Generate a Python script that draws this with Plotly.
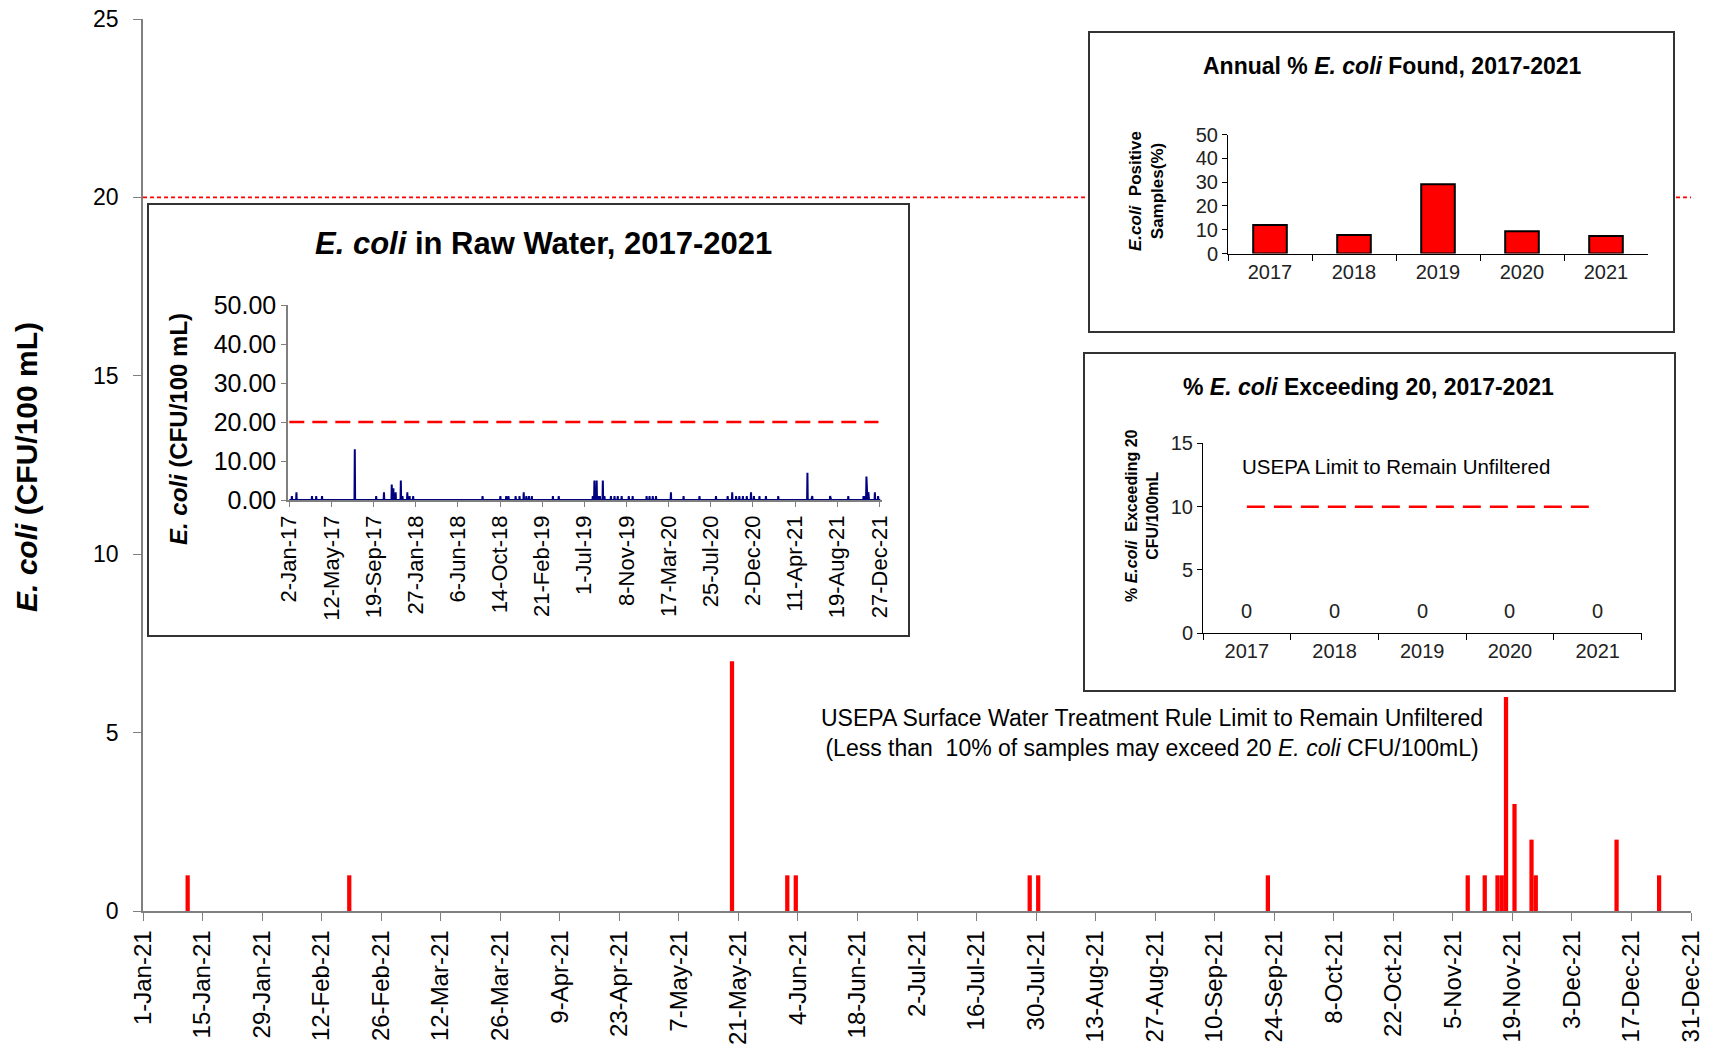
import plotly.graph_objects as go
from datetime import date, timedelta

W, H = 1713, 1050

# ---------------- data ----------------
# Main chart: 2021 E. coli detections (CFU/100 mL)
main_dates = ["2021-01-11", "2021-02-18", "2021-05-19", "2021-06-01", "2021-06-03",
              "2021-07-28", "2021-07-30", "2021-09-22", "2021-11-08", "2021-11-12",
              "2021-11-15", "2021-11-16", "2021-11-17", "2021-11-19", "2021-11-23",
              "2021-11-24", "2021-12-13", "2021-12-23"]
main_values = [1, 1, 7, 1, 1, 1, 1, 1, 1, 1, 1, 1, 6, 3, 2, 1, 2, 1]
limit_value = 20
main_x_range = ["2021-01-01", "2021-12-31"]

# Inset 1: raw water 2017-2020 detections (2021 taken from main series)
raw_dates_2017_2020 = [
    "2017-01-10", "2017-01-24", "2017-03-13", "2017-03-26", "2017-04-13", "2017-07-23",
    "2017-09-27", "2017-10-21", "2017-11-14", "2017-11-19", "2017-11-26", "2017-12-12",
    "2017-12-17", "2018-01-01", "2018-01-08", "2018-01-19",
    "2018-08-21", "2018-10-15", "2018-11-02", "2018-11-09", "2018-12-01", "2018-12-13",
    "2018-12-26",
    "2019-01-03", "2019-01-11", "2019-01-20", "2019-03-26", "2019-04-13",
    "2019-07-27", "2019-08-01", "2019-08-08", "2019-08-13", "2019-08-18", "2019-08-27",
    "2019-09-01", "2019-09-21", "2019-10-02", "2019-10-12", "2019-10-24", "2019-11-15",
    "2019-11-27",
    "2020-01-09", "2020-01-18", "2020-01-28", "2020-02-07", "2020-03-24", "2020-05-02",
    "2020-06-20", "2020-08-10", "2020-09-15", "2020-09-29", "2020-10-11", "2020-10-21",
    "2020-11-01", "2020-11-13", "2020-11-26", "2020-12-05", "2020-12-22"]
raw_values_2017_2020 = [1, 2, 1, 1, 1, 13, 1, 2, 4, 3, 2, 5, 1, 2, 1, 1,
                        1, 1, 1, 1, 1, 1, 2,
                        1, 1, 1, 1, 1,
                        1, 5, 5, 1, 1, 5, 1, 1, 1, 1, 1, 1, 1,
                        1, 1, 1, 1, 2, 1, 1, 1, 1, 2, 1, 1, 1, 1, 2, 1, 1]
raw_start, raw_end = "2017-01-02", "2021-12-30"
raw_tick_dates = ["2017-01-02", "2017-05-12", "2017-09-19", "2018-01-27", "2018-06-06",
                  "2018-10-14", "2019-02-21", "2019-07-01", "2019-11-08", "2020-03-17",
                  "2020-07-25", "2020-12-02", "2021-04-11", "2021-08-19", "2021-12-27"]
raw_x_range = ["2016-12-29", "2022-01-04"]
raw_limit_range = ["2017-01-02", "2021-12-24"]

# Inset 2 / 3: annual summaries
years = ["2017", "2018", "2019", "2020", "2021"]
pct_positive = [12.0, 7.8, 29.1, 9.4, 7.4]
pct_exceeding = [0, 0, 0, 0, 0]
usepa_pct_limit = 10

# -------------- build inset 1 line (non-detects = 0 around each detection) -----
det = {}
for d, v in zip(raw_dates_2017_2020 + main_dates, raw_values_2017_2020 + main_values):
    det[date.fromisoformat(d)] = v
pts = {date.fromisoformat(raw_start): 0, date.fromisoformat(raw_end): 0}
for d in det:
    for nb in (d - timedelta(days=1), d + timedelta(days=1)):
        pts.setdefault(nb, 0)
pts.update(det)
raw_x = sorted(pts)
raw_y = [pts[d] for d in raw_x]

# -------------- helpers (pixel -> figure fraction) --------------
def dx(a, b):
    return [a / W, b / W]

def dy(top, bottom):
    return [1 - bottom / H, 1 - top / H]

FONT = "Arial, Liberation Sans, sans-serif"
RED = "#FF0000"
GRAY = "#7f7f7f"

fig = go.Figure()

# main
fig.add_trace(go.Scatter(x=main_x_range, y=[limit_value, limit_value], mode="lines",
                         line=dict(color=RED, width=1.8, dash="4px,3px"),
                         xaxis="x", yaxis="y", hoverinfo="skip"))
fig.add_trace(go.Bar(x=main_dates, y=main_values, width=86400000,
                     xperiod=86400000, xperiodalignment="middle",
                     marker=dict(color=RED, line=dict(width=0)),
                     xaxis="x", yaxis="y"))

# box 1 (blank) + inset 1
fig.add_trace(go.Scatter(x=[None], y=[None], xaxis="x2", yaxis="y2", hoverinfo="skip"))
fig.add_trace(go.Scatter(x=raw_x, y=raw_y, mode="lines",
                         line=dict(color="#000080", width=2),
                         xaxis="x3", yaxis="y3"))
fig.add_trace(go.Scatter(x=raw_limit_range, y=[limit_value, limit_value], mode="lines",
                         line=dict(color=RED, width=2.5, dash="15px,8px"),
                         xaxis="x3", yaxis="y3", hoverinfo="skip"))

# box 2 (blank) + inset 2
fig.add_trace(go.Scatter(x=[None], y=[None], xaxis="x4", yaxis="y4", hoverinfo="skip"))
fig.add_trace(go.Bar(x=years, y=pct_positive, width=0.4,
                     marker=dict(color=RED, line=dict(color="black", width=2)),
                     xaxis="x5", yaxis="y5"))

# box 3 (blank) + inset 3
fig.add_trace(go.Scatter(x=[None], y=[None], xaxis="x6", yaxis="y6", hoverinfo="skip"))
fig.add_trace(go.Scatter(x=years, y=[usepa_pct_limit] * len(years), mode="lines",
                         line=dict(color=RED, width=2.5, dash="18px,9px"),
                         xaxis="x7", yaxis="y7"))

blank = dict(showline=True, mirror=True, linecolor="#333333", linewidth=1.5,
             showticklabels=False, ticks="", showgrid=False, zeroline=False,
             range=[0, 1], fixedrange=True)

layout = dict(
    width=W, height=H,
    margin=dict(l=0, r=0, t=0, b=0, pad=0, autoexpand=False),
    paper_bgcolor="white", plot_bgcolor="white",
    showlegend=False,
    font=dict(family=FONT, color="black"),
    xaxis=dict(domain=dx(143, 1691), anchor="y", type="date", range=main_x_range,
               tick0="2021-01-01", dtick=14 * 86400000, tickformat="%-d-%b-%y",
               tickangle=-90, ticks="outside", ticklen=8, tickcolor=GRAY,
               showline=True, linecolor=GRAY, linewidth=1.5, showgrid=False,
               zeroline=False, tickfont=dict(size=24), automargin=False,
               ticklabeloverflow="allow"),
    yaxis=dict(domain=dy(19, 911), anchor="x", range=[0, 25], dtick=5,
               ticks="outside", ticklen=8, tickcolor=GRAY, showline=True,
               linecolor=GRAY, linewidth=1.5, showgrid=False, zeroline=False,
               tickfont=dict(size=23), ticklabelstandoff=10, automargin=False,
               ticklabeloverflow="allow"),
    xaxis2=dict(domain=dx(149, 908), anchor="y2", **blank),
    yaxis2=dict(domain=dy(205, 635), anchor="x2", **blank),
    xaxis3=dict(domain=dx(288, 882), anchor="y3", type="date", range=raw_x_range,
                tickvals=raw_tick_dates, tickformat="%-d-%b-%y", tickangle=-90,
                ticks="outside", ticklen=5, tickcolor=GRAY, showline=True,
                linecolor=GRAY, linewidth=1.5, showgrid=False, zeroline=False,
                tickfont=dict(size=22)),
    yaxis3=dict(domain=dy(305, 500), anchor="x3", range=[0, 50], dtick=10,
                tickformat=".2f", ticks="outside", ticklen=5, tickcolor=GRAY,
                showline=True, linecolor=GRAY, linewidth=1.5, showgrid=False,
                zeroline=False, tickfont=dict(size=25)),
    xaxis4=dict(domain=dx(1090, 1673), anchor="y4", **blank),
    yaxis4=dict(domain=dy(33, 331), anchor="x4", **blank),
    xaxis5=dict(domain=dx(1228, 1648), anchor="y5", type="category", range=[-0.5, 4.5],
                ticks="outside", tickson="boundaries", ticklen=6, tickcolor="black",
                showline=True, linecolor="black", linewidth=1, showgrid=False,
                zeroline=False, tickfont=dict(size=20, color="#222")),
    yaxis5=dict(domain=dy(134.5, 253.5), anchor="x5", range=[0, 50], dtick=10,
                ticks="outside", ticklen=5, tickcolor="black", showline=True,
                linecolor="black", linewidth=1, showgrid=False, zeroline=False,
                tickfont=dict(size=20, color="#222")),
    xaxis6=dict(domain=dx(1085, 1674), anchor="y6", **blank),
    yaxis6=dict(domain=dy(354, 690), anchor="x6", **blank),
    xaxis7=dict(domain=dx(1203, 1641.5), anchor="y7", type="category", range=[-0.5, 4.5],
                ticks="outside", tickson="boundaries", ticklen=6, tickcolor="black",
                showline=True, linecolor="black", linewidth=1, showgrid=False,
                zeroline=False, tickfont=dict(size=20, color="#222")),
    yaxis7=dict(domain=dy(443.3, 633.3), anchor="x7", range=[0, 15], dtick=5,
                ticks="outside", ticklen=5, tickcolor="black", showline=True,
                linecolor="black", linewidth=1, showgrid=False, zeroline=False,
                tickfont=dict(size=20, color="#222")),
)
fig.update_layout(**layout)

def ann(x, y, text, size, angle=0, **kw):
    fig.add_annotation(x=x / W, y=1 - y / H, xref="paper", yref="paper",
                       text=text, showarrow=False, textangle=angle, xanchor="center",
                       yanchor="middle", font=dict(size=size, family=FONT, color="black"),
                       **kw)

ann(27, 467, "<b><i>E. coli</i> (CFU/100 mL)</b>", 30, -90)
ann(543.5, 243, "<b><i>E. coli</i> in Raw Water, 2017-2021</b>", 31)
ann(178, 429, "<b><i>E. coli</i> (CFU/100 mL)</b>", 24, -90)
ann(1392, 66, "<b>Annual % <i>E. coli</i> Found, 2017-2021</b>", 23)
ann(1146, 191, "<b><i>E.coli</i>  Positive<br>Samples(%)</b>", 17, -90)
ann(1368, 387, "<b>% <i>E. coli</i> Exceeding 20, 2017-2021</b>", 23)
ann(1142, 516, "<b>% <i>E.coli</i>  Exceeding 20<br>CFU/100mL</b>", 16, -90)
ann(1396, 467, "USEPA Limit to Remain Unfiltered", 20.5)
ann(1152, 732.5,
    "USEPA Surface Water Treatment Rule Limit to Remain Unfiltered<br>"
    "(Less than  10% of samples may exceed 20 <i>E. coli</i> CFU/100mL)", 23)

for i, v in enumerate(pct_exceeding):
    fig.add_annotation(x=i, y=v, xref="x7", yref="y7", text=str(v), showarrow=False,
                       yshift=22, font=dict(size=20, family=FONT, color="#222"))

fig.write_html("out.html",
               config={"displayModeBar": False},
               post_script="document.body.style.margin='0';"
                           "document.body.style.overflow='hidden';")
